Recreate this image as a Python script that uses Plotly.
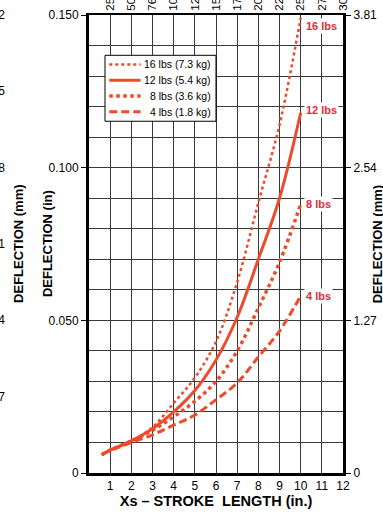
import plotly.graph_objects as go

# stroke length (in.) where each curve was read
stroke = [0.6, 1, 2, 3, 4, 5, 6, 7, 8, 9, 10]

# deflection (in.) for each weight
defl_16 = [0.006, 0.0075, 0.0105, 0.0150, 0.0229, 0.0312, 0.0430, 0.0625, 0.0885, 0.1140, 0.1490]
defl_12 = [0.006, 0.0075, 0.0105, 0.0145, 0.0200, 0.0270, 0.0370, 0.0510, 0.0700, 0.0900, 0.1180]
defl_8 = [0.006, 0.0075, 0.0105, 0.0140, 0.0184, 0.0235, 0.0300, 0.0400, 0.0540, 0.0690, 0.0880]
defl_4 = [0.006, 0.0073, 0.0100, 0.0125, 0.0157, 0.0190, 0.0240, 0.0295, 0.0380, 0.0465, 0.0580]

legend_names = ["16 lbs (7.3 kg)", "12 lbs (5.4 kg)", "8 lbs (3.6 kg)", "4 lbs (1.8 kg)"]
end_labels = ["16 lbs", "12 lbs", "8 lbs", "4 lbs"]

# axis ticks
x_ticks = [1, 2, 3, 4, 5, 6, 7, 8, 9, 10, 11, 12]
x_mm_text = ["25.4", "50.8", "76.2", "101.6", "127.0", "152.4", "177.8", "203.2", "228.6", "254.0", "279.4", "304.8"]
y_ticks = [0, 0.05, 0.10, 0.15]
y_in_text = ["0", "0.050", "0.100", "0.150"]
y_mm_text = ["0", "1.27", "2.54", "3.81"]

# tick labels of the neighbouring chart, cut by the left edge
nb_ticks = [0.150, 0.125, 0.100, 0.075, 0.050, 0.025]
nb_text = ["0.762", "0.635", "0.508", "0.381", "0.254", "0.127"]

FONT = "Liberation Sans, Arial, sans-serif"
LINE = "#EE4A2B"
LABEL = "#E8283C"
GRID = "#3a3a3a"

series = [defl_16, defl_12, defl_8, defl_4]
styles = [dict(width=2.5, dash="dot"), dict(width=3, dash="solid"),
          dict(width=3.5, dash="dot"), dict(width=3, dash="8px,4px")]

fig = go.Figure()

for name, ys, st in zip(legend_names, series, styles):
    fig.add_trace(go.Scatter(
        x=stroke, y=ys, mode="lines", name=name, showlegend=False,
        line=dict(color=LINE, shape="spline", **st),
    ))

# end-of-curve labels
label_shift = [0, 3, 0, 0]
for lab, ys, sh in zip(end_labels, series, label_shift):
    fig.add_annotation(x=stroke[-1], y=ys[-1], text="<b>%s</b>" % lab, showarrow=False,
                       xanchor="left", yanchor="top" if lab == "16 lbs" else "middle",
                       xshift=3, yshift=sh,
                       font=dict(color=LABEL, size=11, family=FONT), bgcolor="white", borderpad=1)

# legend box drawn by hand (paper coords)
fig.add_shape(type="rect", xref="paper", yref="paper", x0=0.063, x1=0.500, y0=0.768, y1=0.912,
              line=dict(color="black", width=1), fillcolor="white", layer="above")
row_top, row_step = 0.892, 0.0345
for i, (name, st) in enumerate(zip(legend_names, styles)):
    yy = row_top - i * row_step
    fig.add_shape(type="line", xref="paper", yref="paper", x0=0.080, x1=0.203, y0=yy, y1=yy,
                  line=dict(color=LINE, **st), layer="above")
    fig.add_annotation(xref="paper", yref="paper", x=0.488, y=yy, text=name,
                       xanchor="right", yanchor="middle",
                       showarrow=False, font=dict(size=10.5))

# invisible trace to carry the mm axes
fig.add_trace(go.Scatter(x=[0], y=[0], xaxis="x2", yaxis="y2", mode="markers",
                         marker=dict(opacity=0), showlegend=False, hoverinfo="skip"))

fig.update_layout(
    width=383, height=514,
    margin=dict(l=89, r=40, t=15, b=41),
    paper_bgcolor="white", plot_bgcolor="white",
    font=dict(family=FONT, size=12, color="black"),
    showlegend=False,
    xaxis=dict(range=[0, 12], tickvals=x_ticks, ticktext=[str(v) for v in x_ticks],
               showgrid=True, gridcolor=GRID, gridwidth=1, zeroline=False, automargin=False,
               showline=True, linecolor="black", linewidth=3, ticks="",
               tickfont=dict(size=12),
               title=dict(text="<b>Xs \u2013 STROKE\u00a0 LENGTH (in.)</b>", font=dict(size=14.5), standoff=0)),
    xaxis2=dict(range=[0, 12], overlaying="x", side="top", tickvals=x_ticks, ticktext=x_mm_text,
                tickangle=-90, showgrid=False, zeroline=False, showline=True, linecolor="black",
                linewidth=2, ticks="", tickfont=dict(size=11.5), automargin=False),
    yaxis=dict(range=[0, 0.15], tickvals=y_ticks, ticktext=y_in_text,
               showgrid=True, gridcolor=GRID, gridwidth=1, zeroline=False, automargin=False,
               showline=True, linecolor="black", linewidth=3,
               ticks="outside", ticklen=5, tickcolor="black", tickwidth=1,
               minor=dict(dtick=0.01, tick0=0, showgrid=True, gridcolor=GRID, gridwidth=1, ticks=""),
               tickfont=dict(size=12)),
    yaxis2=dict(range=[0, 0.15], overlaying="y", side="right", tickvals=y_ticks, ticktext=y_mm_text,
                showgrid=False, zeroline=False, showline=True, linecolor="black", linewidth=3,
                automargin=False, ticks="outside", ticklen=5, tickcolor="black", tickwidth=1,
                tickfont=dict(size=12)),
)

# axis titles drawn as annotations
fig.add_annotation(xref="paper", yref="paper", x=-0.165, y=0.5, text="<b>DEFLECTION (in)</b>",
                   xanchor="center", yanchor="middle",
                   textangle=-90, showarrow=False, font=dict(size=13))
fig.add_annotation(xref="paper", yref="paper", x=-0.28, y=0.5, text="<b>DEFLECTION (mm)</b>",
                   xanchor="center", yanchor="middle",
                   textangle=-90, showarrow=False, font=dict(size=13))
fig.add_annotation(xref="paper", yref="paper", x=1.135, y=0.5, text="<b>DEFLECTION (mm)</b>",
                   xanchor="center", yanchor="middle",
                   textangle=-90, showarrow=False, font=dict(size=13))

for v, t in zip(nb_ticks, nb_text):
    fig.add_annotation(xref="paper", yref="y", x=-0.322, y=v, text=t,
                       xanchor="right", yanchor="middle",
                       showarrow=False, font=dict(size=12))

# drop the default 8px body margin so the figure fills the window
fig.write_html("out.html", config={"displayModeBar": False},
               post_script="document.body.style.margin='0';")
